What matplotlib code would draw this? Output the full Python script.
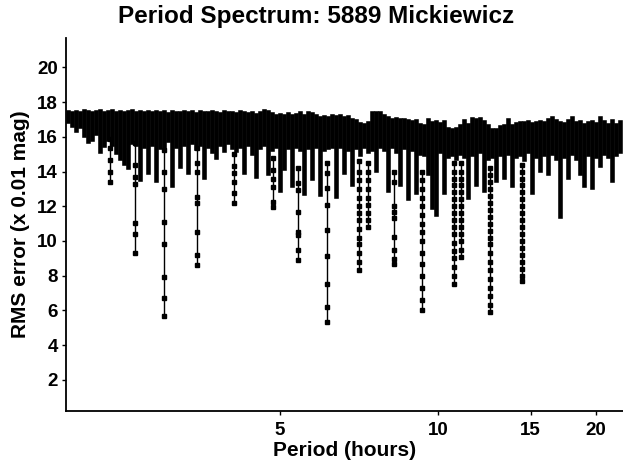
import matplotlib
matplotlib.use("Agg")
import matplotlib.pyplot as plt
from matplotlib.ticker import NullLocator

# strips of the spectrum: period (hours), top and bottom RMS (x 0.01 mag)
band_period = [1.974, 2.009, 2.044, 2.080, 2.117, 2.155, 2.193, 2.232, 2.271, 2.311,
               2.352, 2.394, 2.436, 2.479, 2.523, 2.568, 2.613, 2.659, 2.706, 2.754,
               2.803, 2.853, 2.903, 2.955, 3.007, 3.060, 3.114, 3.169, 3.225, 3.282,
               3.340, 3.399, 3.459, 3.521, 3.583, 3.646, 3.711, 3.776, 3.843, 3.911,
               3.980, 4.051, 4.122, 4.195, 4.269, 4.345, 4.422, 4.500, 4.580, 4.661,
               4.743, 4.827, 4.913, 5.000, 5.088, 5.178, 5.270, 5.363, 5.458, 5.555,
               5.653, 5.753, 5.855, 5.959, 6.064, 6.172, 6.281, 6.392, 6.505, 6.620,
               6.738, 6.857, 6.978, 7.102, 7.228, 7.356, 7.486, 7.618, 7.753, 7.890,
               8.030, 8.172, 8.317, 8.464, 8.614, 8.766, 8.922, 9.080, 9.240, 9.404,
               9.570, 9.740, 9.912, 10.09, 10.27, 10.45, 10.63, 10.82, 11.01, 11.21,
               11.41, 11.61, 11.81, 12.02, 12.24, 12.45, 12.67, 12.90, 13.13, 13.36,
               13.59, 13.84, 14.08, 14.33, 14.58, 14.84, 15.10, 15.37, 15.64, 15.92,
               16.20, 16.49, 16.78, 17.08, 17.38, 17.69, 18.00, 18.32, 18.64, 18.97,
               19.31, 19.65, 20.00, 20.35, 20.71, 21.08, 21.45, 21.83, 22.22]

band_top = [17.45, 17.40, 17.45, 17.40, 17.50, 17.45, 17.40, 17.45, 17.50, 17.40,
            17.45, 17.50, 17.40, 17.45, 17.40, 17.45, 17.50, 17.40, 17.45, 17.40,
            17.45, 17.35, 17.45, 17.40, 17.45, 17.30, 17.45, 17.40, 17.35, 17.45,
            17.40, 17.45, 17.30, 17.45, 17.40, 17.35, 17.45, 17.40, 17.30, 17.45,
            17.40, 17.35, 17.30, 17.45, 17.40, 17.30, 17.35, 17.25, 17.40, 17.50,
            17.45, 17.30, 17.20, 17.25, 17.20, 17.30, 17.20, 17.25, 17.35, 17.20,
            17.40, 17.30, 17.20, 17.10, 17.15, 17.10, 17.20, 17.15, 17.20, 17.10,
            17.15, 17.00, 16.90, 16.75, 16.70, 16.80, 17.35, 17.40, 17.35, 17.20,
            17.10, 17.00, 17.05, 16.95, 17.00, 16.90, 16.85, 16.90, 16.70, 16.60,
            16.95, 16.80, 16.85, 16.75, 16.85, 16.45, 16.40, 16.45, 16.60, 16.90,
            16.70, 17.05, 17.00, 17.05, 16.85, 16.60, 16.40, 16.40, 16.55, 16.60,
            16.95, 16.60, 16.75, 16.80, 16.80, 16.85, 16.75, 16.80, 16.85, 16.80,
            17.00, 17.10, 16.90, 16.80, 16.75, 16.90, 17.10, 16.80, 16.85, 16.70,
            16.80, 16.85, 16.75, 17.10, 16.85, 16.70, 16.90, 16.70, 16.85]

band_low = [16.90, 16.70, 16.40, 16.60, 16.10, 15.75, 15.85, 16.20, 15.20, 15.55,
            15.90, 15.60, 15.15, 14.80, 14.50, 14.25, 15.70, 15.60, 13.60, 15.50,
            14.00, 15.60, 13.50, 15.40, 15.30, 15.80, 13.25, 15.50, 14.30, 15.60,
            14.00, 15.70, 15.35, 15.60, 13.70, 15.50, 15.20, 14.85, 15.60, 15.25,
            15.70, 15.40, 15.25, 15.50, 14.00, 15.60, 15.05, 13.75, 15.40, 15.60,
            13.90, 15.30, 15.50, 12.95, 14.20, 15.40, 13.25, 15.50, 15.30, 12.75,
            15.40, 13.65, 15.50, 12.70, 15.30, 15.40, 15.50, 12.60, 15.50, 14.00,
            15.30, 13.30, 15.40, 15.00, 15.50, 15.20, 15.30, 14.10, 15.50, 15.30,
            12.95, 15.50, 15.20, 13.30, 15.40, 12.45, 15.30, 12.85, 15.10, 15.00,
            13.90, 11.95, 11.55, 15.20, 12.85, 14.90, 15.00, 14.80, 15.10, 14.90,
            12.55, 15.00, 13.30, 15.20, 12.95, 14.80, 14.90, 13.50, 15.00, 13.70,
            15.10, 13.25, 14.90, 15.00, 14.70, 15.20, 12.80, 14.90, 14.10, 15.00,
            13.90, 15.10, 14.80, 11.45, 14.90, 13.70, 15.10, 14.80, 13.90, 13.20,
            15.00, 13.10, 14.90, 14.40, 15.10, 14.90, 13.50, 15.00, 15.20]

# deeper minima: period and the RMS of the points running down each dip
dip_period = [2.373, 2.648, 3.007, 3.467, 4.087, 4.850, 5.418, 6.146,
              7.072, 7.367, 8.245, 9.335, 10.74, 11.08, 12.56, 14.45]
dip_rms = [
    [15.90, 15.35, 14.64, 14.00, 13.42],
    [15.63, 14.40, 13.67, 13.27, 11.01, 10.43, 9.33],
    [15.25, 13.95, 13.00, 11.07, 9.80, 7.92, 6.71, 5.67],
    [15.35, 14.50, 14.00, 12.55, 12.17, 10.53, 9.18, 8.64],
    [15.00, 14.35, 13.90, 13.42, 12.75, 12.20],
    [14.77, 14.10, 13.60, 13.13, 12.26, 11.94],
    [14.20, 13.33, 12.94, 11.68, 10.53, 10.34, 9.47, 8.89],
    [14.50, 13.90, 13.04, 12.07, 10.62, 9.12, 7.54, 6.19, 5.32],
    [14.60, 14.00, 13.50, 13.00, 12.50, 12.00, 11.60, 11.20, 10.70, 10.20,
     9.80, 9.30, 8.80, 8.31],
    [14.50, 14.00, 13.50, 13.00, 12.50, 12.10, 11.60, 11.20, 10.78],
    [14.00, 13.40, 12.00, 11.68, 11.30, 10.24, 9.47, 8.99, 8.70],
    [14.00, 13.50, 13.00, 12.50, 12.00, 11.50, 11.00, 10.50, 10.00, 9.30,
     8.70, 8.00, 7.30, 6.60, 6.04],
    [14.50, 14.00, 13.60, 13.20, 12.80, 12.40, 12.00, 11.60, 11.20, 10.80,
     10.40, 9.90, 9.40, 9.00, 8.50, 8.00, 7.50],
    [14.50, 14.00, 13.60, 13.20, 12.80, 12.40, 12.00, 11.60, 11.20, 10.80,
     10.40, 10.00, 9.50, 9.08],
    [14.20, 13.80, 13.40, 13.00, 12.60, 12.20, 11.80, 11.40, 11.00, 10.60,
     10.20, 9.80, 9.30, 8.80, 8.30, 7.80, 7.30, 6.80, 6.30, 5.90],
    [14.40, 14.00, 13.60, 13.20, 12.80, 12.40, 12.00, 11.60, 11.20, 10.80,
     10.40, 10.00, 9.60, 9.20, 8.80, 8.40, 8.00, 7.70],
]

x_ticks = [5, 10, 15, 20]
y_ticks = [2, 4, 6, 8, 10, 12, 14, 16, 18, 20]

plt.rcParams['font.family'] = ['Liberation Sans', 'DejaVu Sans']
plt.rcParams['font.weight'] = 'bold'

fig = plt.figure(figsize=(6.23, 4.66), dpi=100)
ax = fig.add_axes([66 / 623, 1 - 411 / 466, 557 / 623, 373 / 466])

ax.vlines(band_period, band_low, band_top, colors='black', linewidth=3.3,
          capstyle='projecting')
for p, vals in zip(dip_period, dip_rms):
    ax.plot([p] * len(vals), vals, color='black', linewidth=1.0,
            marker='s', markersize=3.2)

ax.set_xscale('log')
ax.set_xlim(1.956, 22.5)
ax.set_ylim(0.2, 21.7)
ax.set_xticks(x_ticks)
ax.set_xticklabels([str(t) for t in x_ticks])
ax.xaxis.set_minor_locator(NullLocator())
ax.set_yticks(y_ticks)

for side in ['top', 'right']:
    ax.spines[side].set_visible(False)
for side in ['left', 'bottom']:
    ax.spines[side].set_linewidth(1.3)
ax.tick_params(axis='both', direction='out', length=3, width=1,
               labelsize=13.5)
ax.tick_params(axis='x', pad=5)
ax.tick_params(axis='y', pad=3)

ax.set_xlabel('Period (hours)', fontsize=15, fontweight='bold', labelpad=1)
ax.set_ylabel('RMS error (x 0.01 mag)', fontsize=15, fontweight='bold', labelpad=5)
fig.suptitle('Period Spectrum: 5889 Mickiewicz', x=0.507, y=1 - 17 / 466,
             fontsize=17.5, fontweight='bold', va='center')

fig.savefig('out.png', dpi=100)
